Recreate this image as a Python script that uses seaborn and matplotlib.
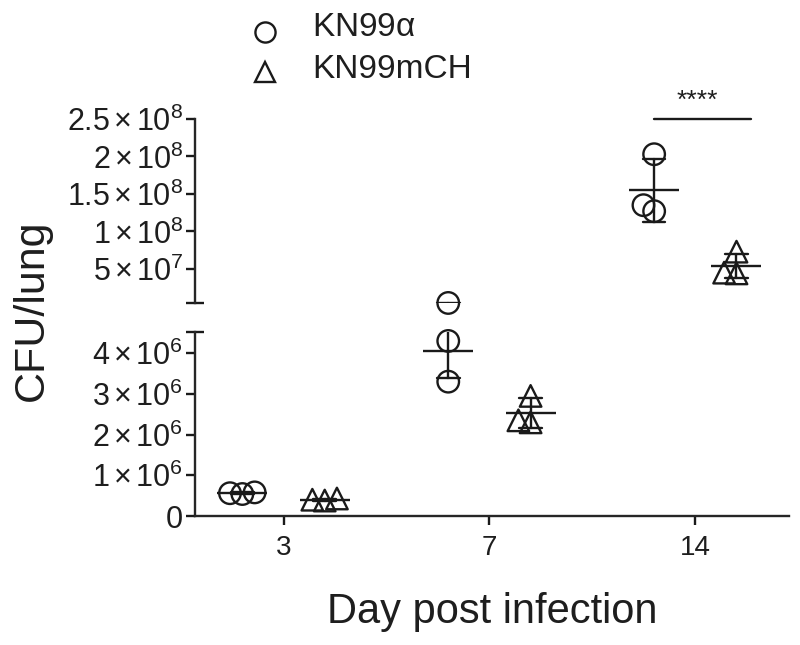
import numpy as np
import pandas as pd
import matplotlib
matplotlib.use("Agg")
import matplotlib.pyplot as plt
import seaborn as sns
from matplotlib.lines import Line2D

# ---------------- data ----------------
days = ["3", "7", "14"]
strains = ["KN99α", "KN99mCH"]
kn99a_day3 = [5.4e5, 5.6e5, 5.8e5]
kn99a_day7 = [3.3e6, 4.3e6, 4.55e6]
kn99a_day14 = [2.03e8, 1.27e8, 1.35e8]
kn99mch_day3 = [3.8e5, 4.0e5, 4.3e5]
kn99mch_day7 = [2.95e6, 2.35e6, 2.30e6]
kn99mch_day14 = [7.3e7, 4.4e7, 4.5e7]

lower_ticks = [0, 1e6, 2e6, 3e6, 4e6]
lower_tick_labels = ["0", r"$1\times10^{6}$", r"$2\times10^{6}$",
                     r"$3\times10^{6}$", r"$4\times10^{6}$"]
upper_ticks = [5e7, 1e8, 1.5e8, 2e8, 2.5e8]
upper_tick_labels = [r"$5\times10^{7}$", r"$1\times10^{8}$", r"$1.5\times10^{8}$",
                     r"$2\times10^{8}$", r"$2.5\times10^{8}$"]
lower_range = (0, 4.52e6)
upper_range = (4.5e6, 2.5e8)
sig_day = "14"
sig_label = "****"
legend_labels = [r"KN99$\alpha$", "KN99mCH"]

rows = []
for strain, series in zip(strains, [[kn99a_day3, kn99a_day7, kn99a_day14],
                                    [kn99mch_day3, kn99mch_day7, kn99mch_day14]]):
    for day, vals in zip(days, series):
        for v in vals:
            rows.append({"day": day, "strain": strain, "cfu": v})
df = pd.DataFrame(rows)

# ---------------- style ----------------
sns.set_theme(style="ticks")
plt.rcParams["font.family"] = ["Liberation Sans", "DejaVu Sans"]
plt.rcParams["mathtext.fontset"] = "custom"
plt.rcParams["mathtext.rm"] = "Liberation Sans"
plt.rcParams["mathtext.it"] = "Liberation Serif:italic"
plt.rcParams["mathtext.default"] = "regular"
TXT = "#1e1e1e"
LW = 1.7

W, H = 800, 645
fig = plt.figure(figsize=(W / 100, H / 100), dpi=100)
xl, xr = 195, 789
ax_up = fig.add_axes([xl / W, (H - 303) / H, (xr - xl) / W, (303 - 119) / H])
ax_lo = fig.add_axes([xl / W, (H - 516) / H, (xr - xl) / W, (516 - 332) / H])

markers = {"KN99α": "o", "KN99mCH": "^"}
split = lower_range[1]

# group statistics decide in which segment of the broken axis each group is drawn
gmin = df.groupby(["day", "strain"])["cfu"].transform("min")
gmax = df.groupby(["day", "strain"])["cfu"].transform("max")
gmean = df.groupby(["day", "strain"])["cfu"].transform("mean")

point_kws = dict(x="day", y="cfu", hue="strain", hue_order=strains, order=days,
                 estimator="mean", errorbar="sd", dodge=0.4, markers="_",
                 markeredgewidth=LW, linestyle="none", capsize=0.11,
                 err_kws={"linewidth": LW}, palette=["k", "k"], legend=False)

swarm_colls = []
for ax, sub in [(ax_lo, df[df.cfu <= split]), (ax_up, df[df.cfu > split])]:
    for strain in strains:
        part = sub[sub.strain == strain]
        if len(part) == 0:
            continue
        before = list(ax.collections)
        sns.swarmplot(data=part, x="day", y="cfu", hue="strain", hue_order=strains,
                      order=days, dodge=True, palette=["k", "k"], marker=markers[strain],
                      size=8.5, linewidth=0, legend=False, ax=ax, zorder=3)
        swarm_colls += [c for c in ax.collections if c not in before]

# mean + SD
sns.pointplot(data=df[gmin <= split], markersize=36, ax=ax_lo, **point_kws)
sns.pointplot(data=df[gmean > split], markersize=36, ax=ax_up, **point_kws)
# groups whose SD reaches across the break: only their error bars in the upper part
sns.pointplot(data=df[(gmax > split) & (gmean <= split)], markersize=0, ax=ax_up,
              **point_kws)

for ax in (ax_lo, ax_up):
    ax.set_xlim(-0.43, 2.455)
ax_lo.set_ylim(*lower_range)
ax_up.set_ylim(*upper_range)

# compute swarm positions, then enlarge the hollow markers (Prism-like overlap)
fig.canvas.draw()
for coll in swarm_colls:
    if len(coll.get_offsets()) == 0:
        coll.remove()
        continue
    if "draw" in coll.__dict__:
        del coll.draw
    coll.set_sizes([15.5 ** 2])
    coll.set_facecolor("none")
    coll.set_edgecolor("k")
    coll.set_linewidth(LW)
    coll.set_clip_on(False)

for ax in (ax_lo, ax_up):
    ax.set_xlabel("")
    ax.set_ylabel("")
    for s in ["top", "right"]:
        ax.spines[s].set_visible(False)
    ax.spines["left"].set_linewidth(LW)
    ax.spines["bottom"].set_linewidth(LW)
    ax.tick_params(axis="both", direction="out", length=6.5, width=LW,
                   labelsize=22, colors="k", labelcolor=TXT, pad=2)
    ax.patch.set_alpha(0)

ax_lo.set_yticks(lower_ticks, lower_tick_labels)
ax_lo.set_xticks(range(len(days)), days)
ax_lo.tick_params(axis="x", labelsize=20, pad=7)

ax_up.set_yticks(upper_ticks, upper_tick_labels)
ax_up.spines["bottom"].set_visible(False)
ax_up.tick_params(axis="x", bottom=False, labelbottom=False)

# axis-break caps
for ax, yy in [(ax_up, 0), (ax_lo, 1)]:
    ax.plot([0], [yy], transform=ax.transAxes, marker="_", markersize=13,
            markeredgewidth=LW, color="k", clip_on=False)

# significance bar
ci = days.index(sig_day)
ax_up.plot([ci - 0.2, ci + 0.27], [upper_range[1] * 1.002] * 2, color="k",
           linewidth=LW, clip_on=False)
ax_up.text(ci + 0.01, upper_range[1] * 1.035, sig_label, ha="center", va="bottom",
           fontsize=19, color=TXT, clip_on=False)

# axis labels
fig.text(492 / W, 1 - 623 / H, "Day post infection", ha="center", va="baseline",
         fontsize=30, color=TXT)
fig.text(32 / W, 1 - 310 / H, "CFU/lung", rotation=90, ha="center", va="center",
         fontsize=31, color=TXT)

# legend (hollow markers + labels)
for strain, label, ym, yt in zip(strains, legend_labels, [32, 72], [27, 70]):
    fig.add_artist(Line2D([265 / W], [1 - ym / H], transform=fig.transFigure,
                          linestyle="none", marker=markers[strain], markersize=14.5,
                          markerfacecolor="none", markeredgecolor="k",
                          markeredgewidth=LW))
    fig.text(312 / W, 1 - yt / H, label, ha="left", va="center", fontsize=24,
             color=TXT)

fig.savefig("out.png", dpi=100)
